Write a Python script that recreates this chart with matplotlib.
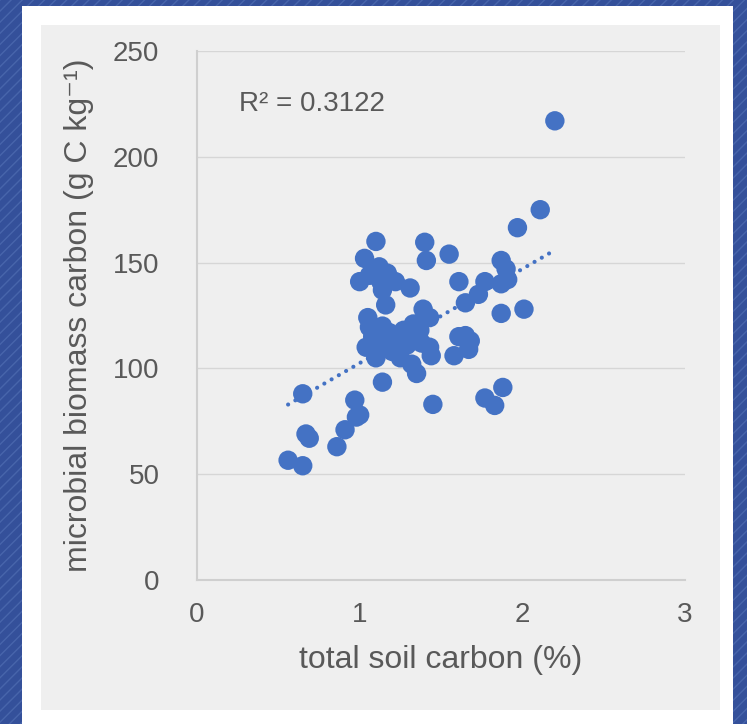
import matplotlib
matplotlib.use("Agg")
import matplotlib.pyplot as plt
import numpy as np
from matplotlib.patches import Rectangle

# data
soil_c = [2.20, 2.11, 1.97, 2.01, 1.88, 1.87, 1.87, 1.90, 1.91, 1.87,
          1.77, 1.73, 1.65, 1.61, 1.55, 1.65, 1.68, 1.67, 1.58, 1.61,
          1.77, 1.83, 1.45, 1.10, 1.40, 1.03, 1.41, 1.00, 1.06, 1.17,
          1.22, 1.31, 1.14, 1.16, 1.05, 1.06, 1.39, 1.43, 1.33, 1.37,
          1.18, 1.08, 1.22, 1.04, 1.31, 1.29, 1.10, 1.43, 1.44, 1.25,
          1.32, 1.35, 1.14, 0.65, 0.97, 1.00, 0.91, 0.86, 0.67, 0.69,
          0.56, 0.65, 0.98, 1.12, 1.20, 1.14, 1.27, 1.38, 1.12, 1.13]
mb_c = [217, 175, 166.5, 128, 91, 126, 151, 147, 142, 140,
        141, 135, 131, 141, 154, 115.5, 113, 109, 106, 115,
        86, 82.5, 83, 160, 159.6, 152, 151, 141, 144, 145,
        141, 138, 137, 130, 124, 119.5, 128, 124, 121, 118,
        117, 115, 113, 110, 115, 111, 105, 110, 106, 105,
        102, 97.6, 93.5, 88, 85, 78, 71, 63, 69, 67,
        56.6, 54, 77, 110, 108, 120, 118, 112, 148, 141]
trend_slope = 44.5
trend_intercept = 58.0
r2_label = "R² = 0.3122"

x_ticks = [0, 1, 2, 3]
y_ticks = [0, 50, 100, 150, 200, 250]

blue = "#4472C4"
grey_txt = "#595959"
W, H = 747, 724

plt.rcParams["font.family"] = ["Liberation Sans", "DejaVu Sans"]

fig = plt.figure(figsize=(W / 100, H / 100), dpi=100)
fig.patch.set_facecolor("#34509a")

# slide background: striped blue, white card, grey chart area
fig.patches.append(Rectangle((0, 0), 1, 1, transform=fig.transFigure,
                             facecolor="none", edgecolor="#4865ab",
                             hatch="///", lw=0, zorder=0))
fig.patches.append(Rectangle((22 / W, 0), (733 - 22) / W, 1 - 6 / H,
                             transform=fig.transFigure, facecolor="white",
                             edgecolor="none", zorder=1))
fig.patches.append(Rectangle((41 / W, 1 - 710 / H), (720 - 41) / W,
                             (710 - 25) / H, transform=fig.transFigure,
                             facecolor="#efefef", edgecolor="none", zorder=2))

ax = fig.add_axes([197 / W, 1 - 580 / H, (685 - 197) / W, (580 - 51) / H])
ax.set_zorder(5)
ax.set_facecolor("none")

ax.scatter(soil_c, mb_c, s=195, color=blue, edgecolors="none", zorder=3)

tx = np.array([min(soil_c), max(soil_c)])
ax.plot(tx, trend_slope * tx + trend_intercept, color=blue, lw=3,
        linestyle=(0, (0.01, 2)), dash_capstyle="round", zorder=4)

ax.text(0.26, 225, r2_label, fontsize=20, color=grey_txt, va="center")

ax.set_xlim(0, 3)
ax.set_ylim(0, 250)
ax.set_xticks(x_ticks)
ax.set_yticks(y_ticks)
ax.tick_params(length=0, labelsize=20, labelcolor=grey_txt)
ax.tick_params(axis="y", pad=27)
ax.tick_params(axis="x", pad=16)
ax.grid(axis="y", color="#d6d6d6", lw=1)
ax.set_axisbelow(True)
for side in ["top", "right"]:
    ax.spines[side].set_visible(False)
for side in ["left", "bottom"]:
    ax.spines[side].set_color("#cfcfcf")
    ax.spines[side].set_linewidth(1.5)

ax.set_xlabel("total soil carbon (%)", fontsize=23, color=grey_txt,
              labelpad=12)
ax.set_ylabel("microbial biomass carbon (g C kg⁻¹)", fontsize=23,
              color=grey_txt, labelpad=14)

fig.savefig("out.png", dpi=100, facecolor=fig.get_facecolor())
